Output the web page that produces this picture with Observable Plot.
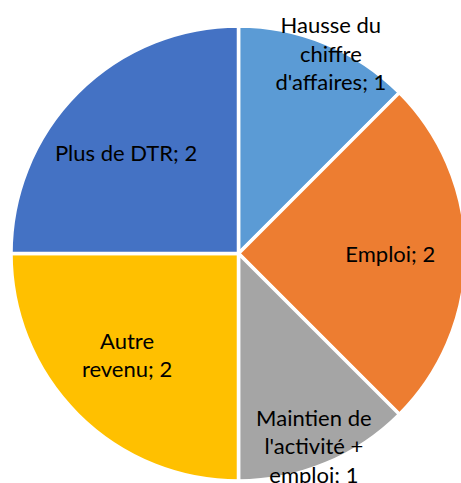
<!DOCTYPE html>
<html>
<head>
<meta charset="utf-8">
<script src="https://cdn.jsdelivr.net/npm/d3@7"></script>
<script src="https://cdn.jsdelivr.net/npm/@observablehq/plot@0.6"></script>
<style>
  html, body { margin: 0; padding: 0; background: #fff; }
  #chart { width: 461px; height: 483px; overflow: hidden; }
</style>
</head>
<body>
<div id="chart"></div>
<script>
// Data
const categories = ["Hausse du chiffre d'affaires", "Emploi", "Maintien de l'activité + emploi", "Autre revenu", "Plus de DTR"];
const values = [1, 2, 1, 2, 2];
const labelLines = ["Hausse du\nchiffre\nd'affaires", "Emploi", "Maintien de\nl'activité +\nemploi", "Autre\nrevenu", "Plus de DTR"];
const colors = ["#5B9BD5", "#ED7D31", "#A5A5A5", "#FFC000", "#4472C4"];

const W = 461, H = 483;
const R = 227.5, CX = 238.5, CY = 253.5;
// label nudges in pixels (layout only)
const nudges = [[10, -4], [0, -1.5], [-7, -6.5], [-5, -7], [-6, 5]];

const pie = d3.pie().sort(null).value(d => d.value)(
  categories.map((c, i) => ({category: c, value: values[i], label: labelLines[i] + "; " + values[i], color: colors[i]}))
);
const total = d3.sum(values);

const slices = pie.map((p, i) => {
  const mid = (p.startAngle + p.endAngle) / 2;
  const lr = p.data.value / total < 0.2 ? 0.94 : 0.665;
  return {...p.data, startAngle: p.startAngle, endAngle: p.endAngle,
    lx: Math.sin(mid) * lr + nudges[i][0] / R,
    ly: -Math.cos(mid) * lr + nudges[i][1] / R};
});

const arcMark = (index, scales) => {
  const cx = scales.x(0), cy = scales.y(0);
  const r = scales.x(1) - scales.x(0);
  const arc = d3.arc().innerRadius(0).outerRadius(r);
  const g = d3.create("svg:g").attr("transform", `translate(${cx},${cy})`);
  g.selectAll("path").data(slices).join("path")
    .attr("d", d => arc({startAngle: d.startAngle, endAngle: d.endAngle}))
    .attr("fill", d => d.color)
    .attr("stroke", "#fff")
    .attr("stroke-width", 3.5)
    .attr("stroke-linejoin", "miter");
  return g.node();
};

const chart = Plot.plot({
  width: W,
  height: H,
  margin: 0,
  x: {domain: [-CX / R, (W - CX) / R], range: [0, W], axis: null},
  y: {domain: [-CY / R, (H - CY) / R], range: [0, H], axis: null},
  style: {background: "#fff", overflow: "hidden"},
  marks: [
    arcMark,
    Plot.text(slices, {
      x: "lx", y: "ly", text: "label",
      fill: "#000",
      fontSize: 22,
      fontFamily: "Lato, 'Noto Sans', sans-serif",
      lineHeight: 1.3,
      textAnchor: "middle",
      lineAnchor: "middle"
    })
  ]
});
document.getElementById("chart").appendChild(chart);
</script>
</body>
</html>
